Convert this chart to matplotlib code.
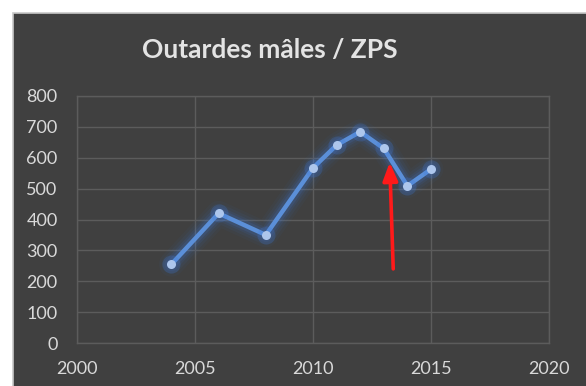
import matplotlib
matplotlib.use("Agg")
import matplotlib.pyplot as plt
from matplotlib.patches import Rectangle

# Male great bustard counts in the SPA
years = [2004, 2006, 2008, 2010, 2011, 2012, 2013, 2014, 2015]
males = [255, 420, 350, 567, 641, 684, 630, 509, 563]

x_ticks = [2000, 2005, 2010, 2015, 2020]
y_ticks = [0, 100, 200, 300, 400, 500, 600, 700, 800]

# highlight arrow: tail and head in data units
arrow_tail = (2013.4, 240)
arrow_head = (2013.25, 585)

W, H = 586, 386
BG = "#404040"
GRID = "#5c5c5c"
TXT = "#d9d9d9"

fig = plt.figure(figsize=(W / 100, H / 100), dpi=100, facecolor="white")

# dark chart panel
fig.patches.append(Rectangle((13 / W, -0.01), 1.0, 1 - 13 / H + 0.01,
                             transform=fig.transFigure, facecolor=BG,
                             edgecolor="#c8c8c8", linewidth=1.2, zorder=-10))

ax = fig.add_axes([77 / W, (H - 343) / H, 472 / W, 247 / H])
ax.set_facecolor("none")
ax.set_xlim(x_ticks[0], x_ticks[-1])
ax.set_ylim(y_ticks[0], y_ticks[-1])
ax.set_xticks(x_ticks)
ax.set_yticks(y_ticks)
ax.grid(True, color=GRID, linewidth=1.0)
ax.set_axisbelow(True)
for s in ax.spines.values():
    s.set_color(GRID)
    s.set_linewidth(1.0)
ax.tick_params(length=0, colors=TXT, labelsize=13)
ax.tick_params(axis="y", pad=14)
ax.tick_params(axis="x", pad=13)
for lab in ax.get_xticklabels() + ax.get_yticklabels():
    lab.set_family("Lato")

# glow under the series line
for lw, a in [(18, 0.04), (14, 0.06), (10, 0.09), (7, 0.14)]:
    ax.plot(years, males, color="#3d7be0", linewidth=lw, alpha=a,
            solid_capstyle="round", solid_joinstyle="round", zorder=2)
ax.plot(years, males, color="#5b8fd8", linewidth=3.2, zorder=3,
        solid_capstyle="round", solid_joinstyle="round")
ax.plot(years, males, linestyle="none", marker="o", markersize=13,
        color="#3d7be0", alpha=0.22, markeredgewidth=0, zorder=3)
ax.plot(years, males, linestyle="none", marker="o", markersize=6.5,
        markerfacecolor="#adc6ec", markeredgewidth=0, zorder=4)

ax.annotate("", xy=arrow_head, xytext=arrow_tail,
            arrowprops=dict(arrowstyle="-|>,head_length=1.1,head_width=0.45",
                            color="#ff1a1a", lw=2.6, shrinkA=0, shrinkB=0),
            zorder=5)

fig.text(270 / W, 1 - 50 / H, "Outardes mâles / ZPS", ha="center",
         va="center", fontsize=19, fontweight="bold", color="#e3e3e3",
         family="Lato")

fig.savefig("out.png", dpi=100, facecolor="white")
